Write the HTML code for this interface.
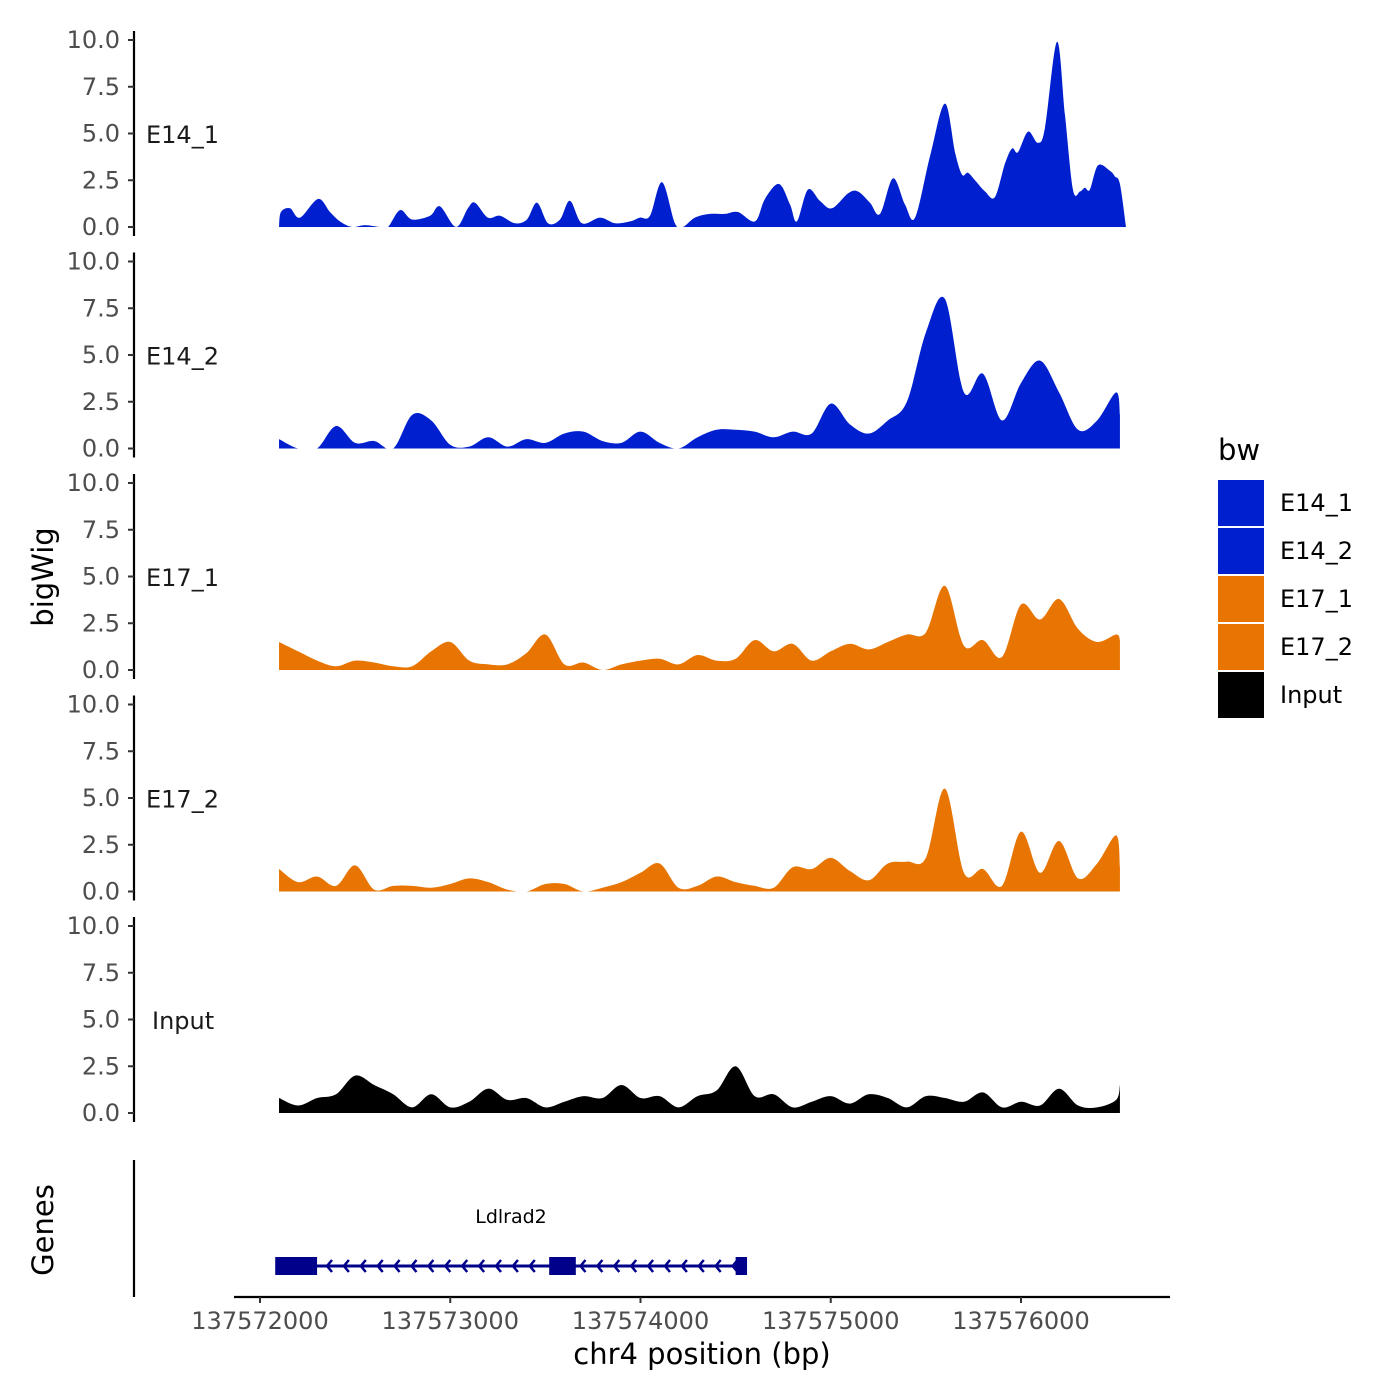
<!DOCTYPE html>
<html><head><meta charset="utf-8"><style>
body{margin:0;background:#fff;}
svg{display:block;font-family:"DejaVu Sans","Liberation Sans",sans-serif;}
</style></head><body>
<svg id="chart" width="1400" height="1400" viewBox="0 0 1400 1400" xmlns="http://www.w3.org/2000/svg">
<rect width="1400" height="1400" fill="#fff"/>
<g id="panels"></g>
<text x="0" y="0" transform="translate(53,577) rotate(-90)" text-anchor="middle" font-size="29" fill="#000">bigWig</text>
<text x="0" y="0" transform="translate(53,1230) rotate(-90)" text-anchor="middle" font-size="29" fill="#000">Genes</text>
<g id="genes"></g>
<g id="xaxis"></g>
<text x="702" y="1364" text-anchor="middle" font-size="29" fill="#000">chr4 position (bp)</text>
<g id="legend"></g>
</svg>
<script>
const BASE = 137572000;
const seriesNames = ["E14_1","E14_2","E17_1","E17_2","Input"];
const seriesColors = ["#0020cf","#0020cf","#e87502","#e87502","#000000"];
const gridPos = [100,200,300,400,500,600,700,800,900,1000,1100,1200,1300,1400,1500,1600,1700,1800,1900,2000,2100,2200,2300,2400,2500,2600,2700,2800,2900,3000,3100,3200,3300,3400,3500,3600,3700,3800,3900,4000,4100,4200,4300,4400,4500,4520];
const e14_1Pos = [100,110,158,210,305,368,420,484,552,631,673,736,799,894,946,1030,1093,1130,1198,1261,1340,1403,1456,1514,1577,1629,1692,1787,1866,1945,1997,2050,2113,2181,2223,2286,2365,2444,2512,2602,2654,2728,2786,2822,2880,2943,3006,3091,3143,3206,3259,3327,3390,3443,3522,3600,3653,3690,3721,3758,3811,3863,3916,3953,3984,4037,4089,4126,4189,4231,4273,4310,4336,4362,4405,4468,4494,4520,4552];
const e14_1Val = [0,0.8,1.0,0.5,1.5,0.8,0.3,0,0.1,0,0,0.9,0.4,0.6,1.1,0,1.0,1.3,0.5,0.6,0.2,0.4,1.3,0.2,0.4,1.4,0.2,0.5,0.2,0.3,0.5,0.6,2.4,0.2,0,0.5,0.7,0.7,0.8,0.3,1.5,2.3,1.2,0.3,2.0,1.4,1.0,1.8,1.9,1.3,0.7,2.6,1.2,0.5,3.8,6.6,4.0,2.8,2.9,2.5,1.9,1.6,3.4,4.2,4.0,5.1,4.5,5.3,9.9,6.0,2.0,1.9,2.1,2.0,3.3,3.0,2.7,2.3,0];
const e14_2Val = [0.5,0,0,1.2,0.3,0.4,0,1.8,1.5,0.2,0.1,0.6,0.1,0.5,0.3,0.8,0.9,0.4,0.3,0.9,0.3,0,0.6,1.0,1.0,0.9,0.6,0.9,0.8,2.4,1.3,0.8,1.5,2.5,6.2,8.0,3.0,4.0,1.5,3.5,4.7,3.0,1.0,1.5,3.0,1.8];
const e17_1Val = [1.5,1.0,0.5,0.2,0.5,0.4,0.2,0.2,1.0,1.5,0.5,0.3,0.3,0.9,1.9,0.3,0.4,0,0.3,0.5,0.6,0.3,0.8,0.5,0.6,1.6,1.0,1.4,0.5,1.0,1.4,1.1,1.5,1.9,2.0,4.5,1.3,1.6,0.7,3.5,2.7,3.8,2.2,1.5,1.9,1.6];
const e17_2Val = [1.2,0.5,0.8,0.3,1.4,0.1,0.3,0.3,0.2,0.4,0.7,0.5,0.1,0,0.4,0.4,0,0.2,0.5,1.0,1.5,0.2,0.3,0.8,0.5,0.3,0.2,1.3,1.2,1.8,1.1,0.6,1.5,1.6,1.8,5.5,1.0,1.2,0.3,3.2,1.0,2.7,0.7,1.5,3.0,1.3];
const inputVal = [0.8,0.4,0.8,1.0,2.0,1.5,1.0,0.3,1.0,0.3,0.6,1.3,0.7,0.8,0.3,0.6,0.9,0.8,1.5,0.8,0.9,0.3,0.9,1.2,2.5,0.9,1.0,0.3,0.6,0.9,0.5,1.0,0.8,0.3,0.9,0.8,0.6,1.1,0.3,0.6,0.4,1.3,0.4,0.3,0.7,1.5];
const yTicks = [0,2.5,5,7.5,10];
const yTickLabels = ["0.0","2.5","5.0","7.5","10.0"];
const xTicks = [137572000,137573000,137574000,137575000,137576000];
const geneExons = [[137572080,137572300],[137573520,137573660],[137574500,137574560]];
const geneSpan = [137572090,137574550];

const NS = "http://www.w3.org/2000/svg";
function xScale(bp){ return 260 + (bp - 137572000) * 0.19025; }
function panelY0(i){ return 227 + i * 221.5; }
function yScale(i, v){ return panelY0(i) - v * 18.7; }
function mk(tag, attrs, parent){ const e=document.createElementNS(NS,tag); for(const k in attrs) e.setAttribute(k,attrs[k]); parent.appendChild(e); return e; }

const panels = document.getElementById("panels");
const posSets = [e14_1Pos, gridPos, gridPos, gridPos, gridPos];
const valSets = [e14_1Val, e14_2Val, e17_1Val, e17_2Val, inputVal];

for (let i=0;i<5;i++){
  const g = mk("g",{},panels);
  
  
  const y0 = panelY0(i);
  const ax = mk("line",{x1:134,x2:134,y1:y0-196,y2:y0+9,stroke:"#000","stroke-width":2.2},g);
  
  
  yTicks.forEach((t,k)=>{
    const yy = yScale(i,t);
    mk("line",{x1:128,x2:134,y1:yy,y2:yy,stroke:"#333","stroke-width":2},g);
    const tl = mk("text",{x:120,y:yy+8,"text-anchor":"end","font-size":24,fill:"#4d4d4d"},g);
    tl.textContent = yTickLabels[k];
    
    
  });
  const lab = mk("text",{x: i===4?152:146, y:y0-84,"font-size":24,fill:"#1a1a1a"},g);
  lab.textContent = seriesNames[i];
  
  
  const pos = posSets[i], val = valSets[i];
  const pts = pos.map((p,k)=>[xScale(BASE+p), yScale(i,val[k])]);
  let d = "M"+pts[0][0]+","+y0+" L"+pts[0][0]+","+pts[0][1];
  for (let k=0;k<pts.length-1;k++){
    const p0=pts[Math.max(0,k-1)], p1=pts[k], p2=pts[k+1], p3=pts[Math.min(pts.length-1,k+2)];
    const c1=[p1[0]+(p2[0]-p0[0])/6, p1[1]+(p2[1]-p0[1])/6];
    const c2=[p2[0]-(p3[0]-p1[0])/6, p2[1]-(p3[1]-p1[1])/6];
    d += " C"+c1[0]+","+c1[1]+" "+c2[0]+","+c2[1]+" "+p2[0]+","+p2[1];
  }
  d += " L"+pts[pts.length-1][0]+","+y0+" Z";
  const cp = mk("clipPath",{id:"clip"+i},g);
  mk("rect",{x:200,y:y0-210,width:1000,height:210},cp);
  const area = mk("path",{d:d,fill:seriesColors[i],"clip-path":"url(#clip"+i+")"},g);
  
  
}

const genes = document.getElementById("genes");
const gax = mk("line",{x1:134,x2:134,y1:1160,y2:1297,stroke:"#000","stroke-width":2.2},genes);


const gy = 1266, navy = "#00008b";
const gl = mk("line",{x1:xScale(geneSpan[0]),x2:xScale(geneSpan[1]),y1:gy,y2:gy,stroke:navy,"stroke-width":3},genes);


geneExons.forEach(ex=>{
  const r = mk("rect",{x:xScale(ex[0]),y:gy-9,width:xScale(ex[1])-xScale(ex[0]),height:18,fill:navy},genes);
  
  
});
for (let ax=327; ax<=735; ax+=16.9){
  if (ax>540 && ax<580) continue;
  mk("polyline",{points:(ax+5)+","+(gy-6)+" "+ax+","+gy+" "+(ax+5)+","+(gy+6),fill:"none",stroke:navy,"stroke-width":2.5},genes);
}
const gname = mk("text",{x:511,y:1223,"text-anchor":"middle","font-size":19,fill:"#000"},genes);
gname.textContent = "Ldlrad2";



const xa = document.getElementById("xaxis");
mk("line",{x1:234,x2:1170,y1:1297,y2:1297,stroke:"#000","stroke-width":2.2},xa);
xTicks.forEach(t=>{
  const xx = xScale(t);
  mk("line",{x1:xx,x2:xx,y1:1297,y2:1303,stroke:"#333","stroke-width":2},xa);
  const tl = mk("text",{x:xx,y:1329,"text-anchor":"middle","font-size":24,fill:"#4d4d4d"},xa);
  tl.textContent = String(t);
  
  
});

const lg = document.getElementById("legend");
const lt = mk("text",{x:1218,y:460,"font-size":29,fill:"#000"},lg);
lt.textContent = "bw";


seriesNames.forEach((n,k)=>{
  const y = 480 + k*48;
  const r = mk("rect",{x:1218,y:y,width:46,height:46,fill:seriesColors[k]},lg);
  
  
  const t = mk("text",{x:1280,y:y+31,"font-size":24,fill:"#000"},lg);
  t.textContent = n;
  
  
});
</script>
</body></html>
